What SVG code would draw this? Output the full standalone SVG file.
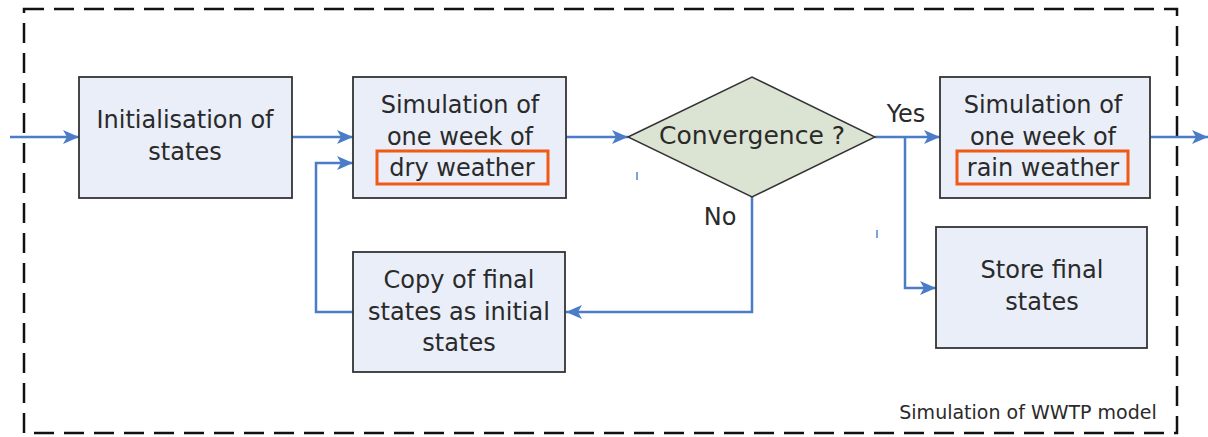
<svg xmlns="http://www.w3.org/2000/svg" width="1208" height="437" viewBox="0 0 1208 437">
<style>
.box{fill:#e9eef8;stroke:#333;stroke-width:1.8}
.dia{fill:#dbe3d3;stroke:#333;stroke-width:1.4}
.t{font-family:"DejaVu Sans",Verdana,sans-serif;font-size:24px;fill:#2a2a2a;text-anchor:middle}
.c{fill:none;stroke:#4a7cc8;stroke-width:2.5}
.hl{fill:none;stroke:#f05a14;stroke-width:3}
</style>
<defs>
<marker id="a" viewBox="0 0 16 14" refX="16" refY="7" markerWidth="16" markerHeight="14" markerUnits="userSpaceOnUse" orient="auto">
<path d="M0,0 L16,7 L0,14 L4,7 z" fill="#4a7cc8"/>
</marker>
</defs>
<rect x="24" y="9" width="1153" height="424" fill="none" stroke="#111" stroke-width="2.5" stroke-dasharray="20,10"/>
<text x="1028" y="419" class="t" style="font-size:19px">Simulation of WWTP model</text>
<g id="connectors">
<path class="c" d="M10,137 H79" marker-end="url(#a)"/>
<path class="c" d="M292,137 H353" marker-end="url(#a)"/>
<path class="c" d="M353,312 H316 V163 H353" marker-end="url(#a)"/>
<path class="c" d="M566,137 H628" marker-end="url(#a)"/>
<path class="c" d="M752,197 V312 H566" marker-end="url(#a)"/>
<path class="c" d="M875,137 H940" marker-end="url(#a)"/>
<path class="c" d="M905,137 V288 H936" marker-end="url(#a)"/>
<path class="c" d="M1150,137 H1208" marker-end="url(#a)"/>
<path d="M637,172 V180 M877,230 V238" stroke="#7fa3d8" stroke-width="2"/>
<text x="906" y="122" class="t">Yes</text>
<text x="720" y="225" class="t">No</text>
</g>
<g id="init">
<rect class="box" x="79" y="77" width="213" height="121"/>
<text class="t" x="185" y="128">Initialisation of</text>
<text class="t" x="185" y="160">states</text>
</g>
<g id="dry">
<rect class="box" x="353" y="77" width="213" height="121"/>
<text class="t" x="460" y="113">Simulation of</text>
<text class="t" x="460" y="145">one week of</text>
<text class="t" x="462" y="176">dry weather</text>
<rect class="hl" x="377" y="151" width="171" height="33"/>
</g>
<g id="convergence">
<polygon class="dia" points="628,137 752,77 875,137 752,197"/>
<text class="t" x="752" y="144" style="font-size:25px">Convergence ?</text>
</g>
<g id="rain">
<rect class="box" x="940" y="77" width="210" height="121"/>
<text class="t" x="1043" y="113">Simulation of</text>
<text class="t" x="1043" y="145">one week of</text>
<text class="t" x="1043" y="176">rain weather</text>
<rect class="hl" x="957" y="151" width="171" height="33"/>
</g>
<g id="store">
<rect class="box" x="936" y="227" width="211" height="121"/>
<text class="t" x="1042" y="278">Store final</text>
<text class="t" x="1042" y="310">states</text>
</g>
<g id="copy">
<rect class="box" x="353" y="252" width="212" height="120"/>
<text class="t" x="459" y="288">Copy of final</text>
<text class="t" x="459" y="320">states as initial</text>
<text class="t" x="459" y="351">states</text>
</g>
</svg>
